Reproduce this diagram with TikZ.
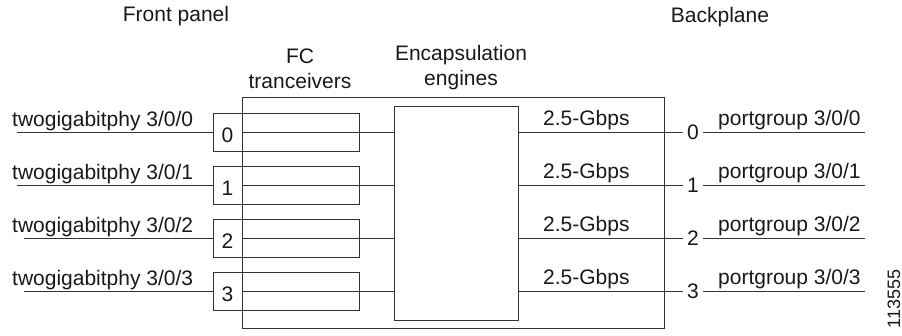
\documentclass[tikz,border=0pt]{standalone}
\usepackage{fontspec}
\setmainfont{Liberation Sans}
\usetikzlibrary{calc}

\begin{document}
\begin{tikzpicture}[x=1pt,y=-1pt,
	box/.style = {draw=black!80, line width=1pt, inner sep=0pt},
	wire/.style = {draw=black!80, line width=1pt},
	lbl/.style = {font=\fontsize{21}{25}\selectfont, text=black!90, inner sep=0pt}]
	\useasboundingbox (0,0) rectangle (902,335);
	
	% Headings
	\node[lbl,anchor=base] (front) at (176,21) {Front panel};
	\node[lbl,anchor=base] (back) at (720,22) {Backplane};
	\node[lbl,anchor=base] (fcTop) at (300,63) {FC};
	\node[lbl,anchor=base] (fcBot) at (300,88) {tranceivers};
	\node[lbl,anchor=base] (engTop) at (461,60) {Encapsulation};
	\node[lbl,anchor=base] (engBot) at (461,85) {engines};
	
	% Line card
	\node[box, minimum width=422pt, minimum height=231pt] (card) at (453,212.5) {};
	
	% Encapsulation engines
	\node[box, minimum width=124pt, minimum height=214pt] (eng) at (456,213) {};
	
	% Ports, one row each
	\foreach \i/\s in {0/17,1/17,2/24,3/24} {
		% FC tranceiver
		\node[box, minimum width=146pt, minimum height=38.5pt] (fc\i) at (286,{132.5+53*\i}) {};
		\node[box, minimum width=29pt, minimum height=38.5pt,
			label={[lbl,yshift=-3pt]center:\i}] (num\i) at (227.5,{132.5+53*\i}) {};
		
		% Front panel side
		\coordinate (in\i) at (\s,{132.5+53*\i});
		\draw[wire] (in\i) -- (num\i.west);
		\node[lbl,anchor=base west] (phy\i) at (12,{126+53*\i}) {twogigabitphy 3/0/\i};
		\draw[wire] (num\i.east) -- (num\i.east -| eng.west);
		
		% Backplane side
		\node[lbl, inner xsep=4pt] (bp\i) at (693,{132.5+53*\i}) {\i};
		\draw[wire] (eng.east |- bp\i) -- (bp\i.west);
		\coordinate (out\i) at (865,{132.5+53*\i});
		\draw[wire] (bp\i.east) -- (out\i);
		\node[lbl,anchor=base west] (rate\i) at (543,{125+53*\i}) {2.5-Gbps};
		\node[lbl,anchor=base west] (pg\i) at (718,{125+53*\i}) {portgroup 3/0/\i};
	}
	
	% Figure number
	\node[font=\fontsize{18}{20}\selectfont, text=black!90, rotate=90, inner sep=0pt] (fig) at (894,299) {113555};
	
\end{tikzpicture}
\end{document}
